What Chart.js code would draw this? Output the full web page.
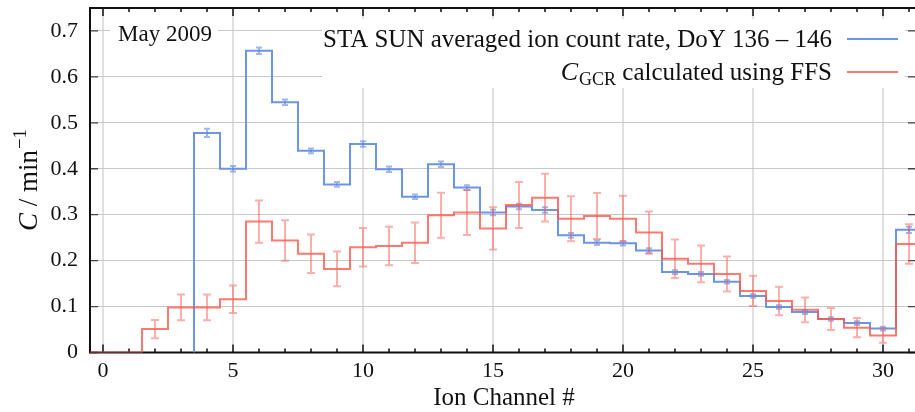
<!DOCTYPE html>
<html>
<head>
<meta charset="utf-8">
<script src="https://cdn.jsdelivr.net/npm/chart.js"></script>
<style>
  html, body { margin: 0; padding: 0; background: #fff; overflow: hidden; width: 915px; height: 412px; }
  #wrap { width: 918px; height: 412px; position: relative; }
</style>
</head>
<body>
<div id="wrap"><canvas id="chart"></canvas></div>
<script>
// ion channels (bin centres)
const channels = [0, 1, 2, 3, 4, 5, 6, 7, 8, 9, 10, 11, 12, 13, 14, 15,
  16, 17, 18, 19, 20, 21, 22, 23, 24, 25, 26, 27, 28, 29, 30, 31];

// STA SUN averaged ion count rate (min^-1)
const staRate = [null, null, null, null, 0.478, 0.400, 0.657, 0.545, 0.439, 0.366, 0.454, 0.399,
  0.339, 0.410, 0.359, 0.305, 0.318, 0.310, 0.255, 0.239, 0.238, 0.222, 0.175, 0.171,
  0.154, 0.123, 0.099, 0.088, 0.073, 0.064, 0.052, 0.267];
const staErr = [0, 0, 0, 0, 0.009, 0.006, 0.007, 0.006, 0.005, 0.005, 0.006, 0.006,
  0.005, 0.006, 0.005, 0.006, 0.006, 0.006, 0.005, 0.005, 0.005, 0.005, 0.004, 0.004,
  0.004, 0.004, 0.004, 0.004, 0.004, 0.004, 0.004, 0.007];

// C_GCR calculated using FFS
const gcrRate = [0, 0, 0.051, 0.098, 0.098, 0.116, 0.285, 0.244, 0.215, 0.182, 0.229, 0.232,
  0.239, 0.299, 0.305, 0.270, 0.321, 0.337, 0.291, 0.297, 0.291, 0.261, 0.204, 0.193,
  0.171, 0.134, 0.112, 0.093, 0.073, 0.054, 0.037, 0.236];
const gcrErr = [0, 0, 0.020, 0.028, 0.028, 0.030, 0.046, 0.044, 0.042, 0.038, 0.042, 0.042,
  0.044, 0.049, 0.049, 0.046, 0.050, 0.052, 0.049, 0.050, 0.050, 0.046, 0.042, 0.040,
  0.038, 0.033, 0.031, 0.027, 0.024, 0.021, 0.016, 0.043];

const xTicks = [0, 5, 10, 15, 20, 25, 30];
const yTicks = [0, 0.1, 0.2, 0.3, 0.4, 0.5, 0.6, 0.7];

const staLabel = 'STA SUN averaged ion count rate, DoY 136 \u2013 146';
const gcrLabel = ['C', 'GCR', ' calculated using FFS'];
const periodLabel = 'May 2009';

const BLUE = 'rgb(108,148,232)';
const RED = 'rgba(255,88,78,0.8)';
const SERIF = '"Liberation Serif", "DejaVu Serif", serif';

// histogram steps: one point per left bin edge, last one closes the bin
function stepPoints(vals) {
  const pts = [];
  let last = null;
  channels.forEach((c, i) => {
    const v = vals[i];
    if (v == null) return;
    if (!pts.length && i > 0) pts.push({ x: c - 0.5, y: 0 });
    pts.push({ x: c - 0.5, y: v });
    last = i;
  });
  pts.push({ x: channels[last] + 0.5, y: vals[last] });
  return pts;
}

const decor = {
  id: 'decor',
  beforeDatasetsDraw(chart) {
    const { ctx, chartArea: a, scales: { x, y } } = chart;
    ctx.save();
    // inward ticks
    ctx.strokeStyle = '#444';
    ctx.lineWidth = 2;
    for (let v = Math.ceil(x.min); v <= x.max; v++) {
      const px = x.getPixelForValue(v);
      const len = v % 5 === 0 ? 8 : 4;
      ctx.beginPath();
      ctx.moveTo(px, a.bottom); ctx.lineTo(px, a.bottom - len);
      ctx.moveTo(px, a.top); ctx.lineTo(px, a.top + len);
      ctx.stroke();
    }
    ctx.lineWidth = 1.3;
    yTicks.forEach(v => {
      const py = y.getPixelForValue(v);
      ctx.beginPath();
      ctx.moveTo(a.left, py); ctx.lineTo(a.left + 8, py);
      ctx.moveTo(a.right, py); ctx.lineTo(a.right - 8, py);
      ctx.stroke();
    });
    // frame
    ctx.strokeStyle = '#111';
    ctx.lineWidth = 2;
    ctx.strokeRect(a.left, a.top, a.right - a.left, a.bottom - a.top);

    // period label
    ctx.fillStyle = '#fff';
    ctx.fillRect(110, 19, 108, 28);
    ctx.fillStyle = '#111';
    ctx.font = '23px ' + SERIF;
    ctx.textBaseline = 'alphabetic';
    ctx.textAlign = 'left';
    ctx.fillText(periodLabel, 118, 41);

    // legend
    ctx.fillStyle = '#fff';
    ctx.fillRect(322, 19, 583, 69);
    const textRight = 832;
    ctx.fillStyle = '#111';
    ctx.font = '25px ' + SERIF;
    ctx.textAlign = 'right';
    ctx.fillText(staLabel, textRight, 47);
    ctx.lineWidth = 2;
    ctx.strokeStyle = BLUE;
    ctx.beginPath(); ctx.moveTo(847, 39); ctx.lineTo(898, 39); ctx.stroke();

    ctx.textAlign = 'left';
    const fC = 'italic 26px ' + SERIF, fSub = '18px ' + SERIF, fTxt = '25px ' + SERIF;
    ctx.font = fC; const wC = ctx.measureText(gcrLabel[0]).width;
    ctx.font = fSub; const wS = ctx.measureText(gcrLabel[1]).width;
    ctx.font = fTxt; const wT = ctx.measureText(gcrLabel[2]).width;
    let tx = textRight - (wC + 1 + wS + wT);
    ctx.font = fC; ctx.fillText(gcrLabel[0], tx, 80); tx += wC + 1;
    ctx.font = fSub; ctx.fillText(gcrLabel[1], tx, 85); tx += wS;
    ctx.font = fTxt; ctx.fillText(gcrLabel[2], tx, 80);
    ctx.strokeStyle = RED;
    ctx.beginPath(); ctx.moveTo(847, 72); ctx.lineTo(898, 72); ctx.stroke();

    // axis titles
    ctx.fillStyle = '#111';
    ctx.font = '25px ' + SERIF;
    ctx.textAlign = 'center';
    ctx.textBaseline = 'middle';
    ctx.fillText('Ion Channel #', (a.left + a.right) / 2 + 1, 398);

    ctx.translate(37, 180);
    ctx.rotate(-Math.PI / 2);
    ctx.textBaseline = 'alphabetic';
    ctx.textAlign = 'left';
    const p1 = 'C', p2 = ' / min', p3 = '\u22121';
    ctx.font = 'italic 27px ' + SERIF; const w1 = ctx.measureText(p1).width;
    ctx.font = '27px ' + SERIF; const w2 = ctx.measureText(p2).width;
    ctx.font = '19px ' + SERIF; const w3 = ctx.measureText(p3).width;
    let ty = -(w1 + w2 + w3 + 1) / 2;
    ctx.font = 'italic 27px ' + SERIF; ctx.fillText(p1, ty, 0); ty += w1;
    ctx.font = '27px ' + SERIF; ctx.fillText(p2, ty, 0); ty += w2 + 1;
    ctx.font = '19px ' + SERIF; ctx.fillText(p3, ty, -11);
    ctx.restore();
  },
  afterDatasetsDraw(chart) {
    const { ctx, chartArea: a, scales: { x, y } } = chart;
    ctx.save();
    ctx.beginPath();
    ctx.rect(a.left, a.top, a.right - a.left, a.bottom - a.top);
    ctx.clip();
    const sets = [
      { v: staRate, e: staErr, c: 'rgba(95,135,225,0.6)', cap: 3 },
      { v: gcrRate, e: gcrErr, c: 'rgba(255,95,85,0.5)', cap: 4 }
    ];
    sets.forEach(s => {
      ctx.strokeStyle = s.c;
      ctx.lineWidth = 2;
      channels.forEach((ch, i) => {
        if (s.v[i] == null || !s.e[i]) return;
        const px = x.getPixelForValue(ch);
        const lo = y.getPixelForValue(s.v[i] - s.e[i]);
        const hi = y.getPixelForValue(s.v[i] + s.e[i]);
        ctx.beginPath();
        ctx.moveTo(px, lo); ctx.lineTo(px, hi);
        ctx.moveTo(px - s.cap, lo); ctx.lineTo(px + s.cap, lo);
        ctx.moveTo(px - s.cap, hi); ctx.lineTo(px + s.cap, hi);
        ctx.stroke();
      });
    });
    ctx.restore();
  }
};

new Chart(document.getElementById('chart'), {
  type: 'line',
  data: {
    datasets: [
      {
        label: 'C_GCR calculated using FFS',
        data: stepPoints(gcrRate),
        stepped: 'before',
        borderColor: RED,
        borderWidth: 2,
        pointRadius: 0,
        fill: false,
        order: 0
      },
      {
        label: staLabel,
        data: stepPoints(staRate),
        stepped: 'before',
        borderColor: BLUE,
        borderWidth: 2,
        pointRadius: 0,
        fill: false,
        order: 1
      }
    ]
  },
  options: {
    responsive: true,
    maintainAspectRatio: false,
    devicePixelRatio: 1,
    animation: false,
    layout: { padding: { top: 8, right: 2, left: 0, bottom: 0 } },
    plugins: { legend: { display: false }, tooltip: { enabled: false } },
    scales: {
      x: {
        type: 'linear',
        min: -0.5,
        max: 31.27,
        afterBuildTicks: s => { s.ticks = xTicks.map(v => ({ value: v })); },
        afterFit: s => { s.height = 59.5; s.paddingLeft = 0; s.paddingRight = 0; },
        ticks: { color: '#111', padding: 6, maxRotation: 0, autoSkip: false, font: { family: SERIF, size: 22 } },
        grid: { color: 'rgb(224,224,224)', lineWidth: 2, drawTicks: false },
        border: { display: false }
      },
      y: {
        min: 0,
        max: 0.75,
        afterBuildTicks: s => { s.ticks = yTicks.map(v => ({ value: v })); },
        afterFit: s => { s.width = 90; s.paddingTop = 0; s.paddingBottom = 0; },
        ticks: {
          color: '#111', padding: 12, font: { family: SERIF, size: 22 },
          callback: v => (v === 0 ? '0' : v.toFixed(1))
        },
        grid: { color: 'rgb(200,200,200)', lineWidth: 1, drawTicks: false },
        border: { display: false }
      }
    }
  },
  plugins: [decor]
});
</script>
</body>
</html>
